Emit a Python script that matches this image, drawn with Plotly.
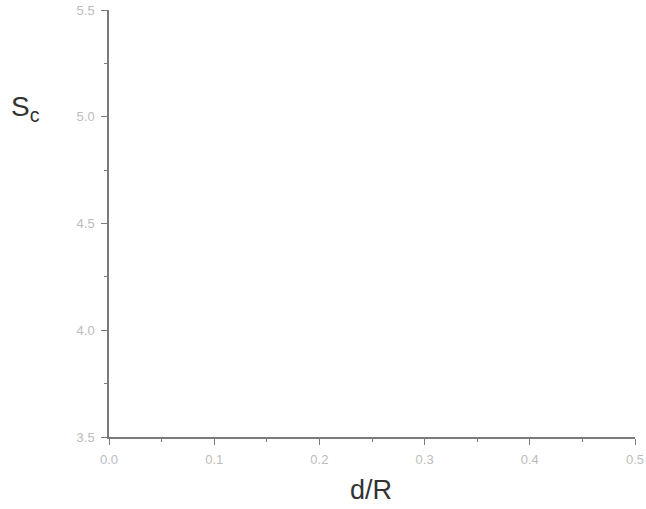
import plotly.graph_objects as go

x_ticks = [0.0, 0.1, 0.2, 0.3, 0.4, 0.5]
x_tick_labels = ["0.0", "0.1", "0.2", "0.3", "0.4", "0.5"]
y_ticks = [3.5, 4.0, 4.5, 5.0, 5.5]
y_tick_labels = ["3.5", "4.0", "4.5", "5.0", "5.5"]
x_range = [0.0, 0.5]
y_range = [3.5, 5.5]

fig = go.Figure()
# invisible trace to anchor the axes
fig.add_trace(go.Scatter(x=x_range, y=y_range, mode="markers",
                         marker=dict(opacity=0), hoverinfo="skip", showlegend=False))

axis_col = "#7a7a7a"
font_fam = "Liberation Sans, Arial, sans-serif"
tick_font = dict(family=font_fam, size=13, color="#bcbcbc")

fig.update_layout(
    width=646, height=509,
    paper_bgcolor="white", plot_bgcolor="white",
    margin=dict(l=109, r=11, t=10, b=72),
    showlegend=False,
    xaxis=dict(range=x_range, tickvals=x_ticks, ticktext=x_tick_labels,
               showgrid=False, zeroline=False, showline=True, linecolor=axis_col, linewidth=1.5,
               ticks="outside", ticklen=6, tickwidth=1, tickcolor=axis_col, tickfont=tick_font,
               ticklabelstandoff=4,
               minor=dict(ticks="outside", ticklen=3, tickcolor=axis_col, dtick=0.05, showgrid=False),
               automargin=False, fixedrange=True),
    yaxis=dict(range=y_range, tickvals=y_ticks, ticktext=y_tick_labels,
               showgrid=False, zeroline=False, showline=True, linecolor=axis_col, linewidth=1.5,
               ticks="outside", ticklen=6, tickwidth=1, tickcolor=axis_col, tickfont=tick_font,
               ticklabelstandoff=4,
               minor=dict(ticks="outside", ticklen=3, tickcolor=axis_col, dtick=0.25, showgrid=False),
               automargin=False, fixedrange=True),
    annotations=[
        dict(text="S<sub>c</sub>", xref="paper", yref="paper", x=-0.19, y=0.77,
             xanchor="left", yanchor="middle", showarrow=False,
             font=dict(family=font_fam, size=28, color="#333333")),
        dict(text="d/R", xref="paper", yref="paper", x=0.498, y=-0.124,
             xanchor="center", yanchor="middle", showarrow=False,
             font=dict(family=font_fam, size=27, color="#333333")),
    ],
)

fig.write_html("out.html", config={"displayModeBar": False},
               post_script="document.body.style.margin='0';")
